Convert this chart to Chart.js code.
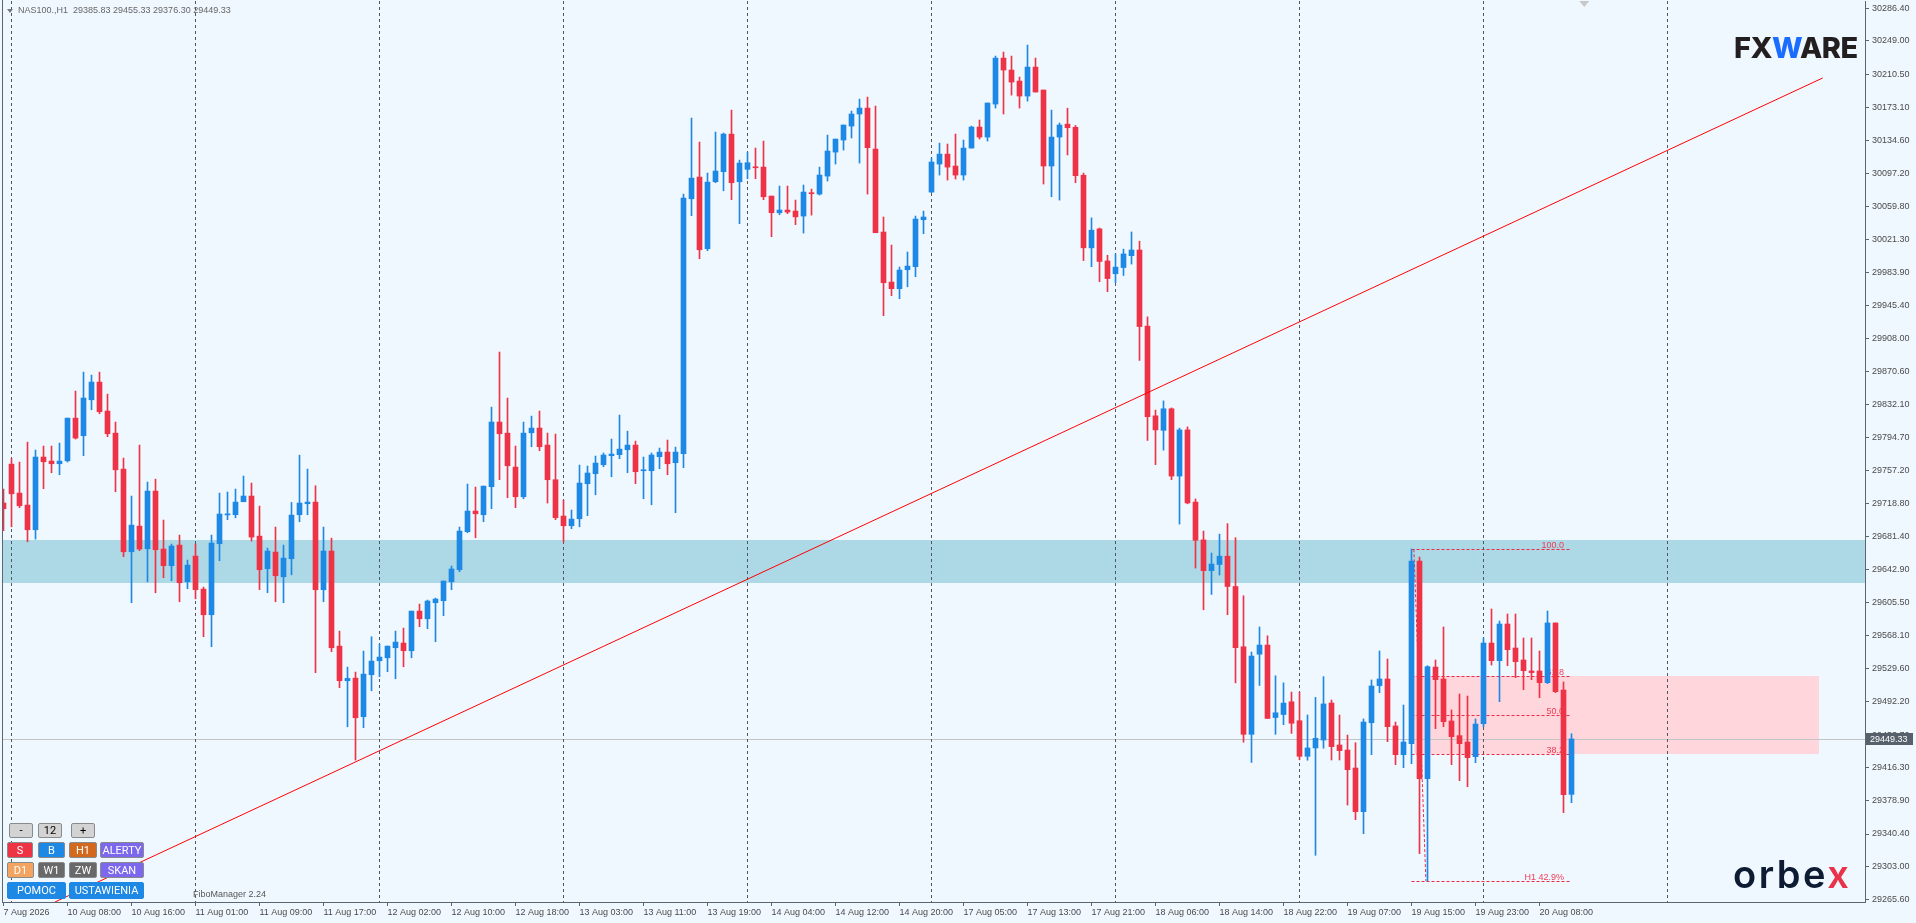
<!DOCTYPE html>
<html>
<head>
<meta charset="utf-8">
<title>NAS100 H1</title>
<script src="https://cdn.jsdelivr.net/npm/chart.js@4.4.1/dist/chart.umd.min.js"></script>
<style>
  html, body { margin: 0; padding: 0; background: #f0f8ff; overflow: hidden; }
  #wrap { position: relative; width: 1916px; height: 923px; }
  #c { position: absolute; left: 0; top: 0; }
  .hdr { position: absolute; left: 18px; top: 5px; font: 9px "Liberation Sans", Arial, sans-serif; color: #666; white-space: pre; }
  .tri { position: absolute; left: 7px; top: 9px; width: 0; height: 0; border-left: 3px solid transparent; border-right: 3px solid transparent; border-top: 4px solid #777; }
  .fxw { position: absolute; left: 1734px; top: 30px; font: 800 29px Inter, "Open Sans", sans-serif; color: #231f20; letter-spacing: -0.5px; }
  .fxw span { color: #1a6dff; }
  .orbex { position: absolute; left: 1733px; top: 851px; font: 600 38px Inter, "Open Sans", sans-serif; color: #0d1b33; letter-spacing: 2.5px; }
  .orbex span { color: #e8334a; }
  .btn { position: absolute; box-sizing: border-box; display: flex; align-items: center; justify-content: center;
         font: 11px Roboto, "Liberation Sans", sans-serif; color: #fff; border: 1px solid #8a8a8a; border-radius: 2px; }
  .fm { position: absolute; left: 193px; top: 889px; font: 9px "Liberation Sans", Arial, sans-serif; color: #555; }
</style>
</head>
<body>
<div id="wrap">
  <canvas id="c"></canvas>
  <div class="tri"></div>
  <div class="hdr">NAS100.,H1  29385.83 29455.33 29376.30 29449.33</div>
  <div class="fxw">FX<span>W</span>ARE</div>
  <div class="orbex">orbe<span>x</span></div>
  <div class="fm">FiboManager 2.24</div>

  <div class="btn" style="left:9px;top:823px;width:24px;height:15px;background:#d3d3d3;color:#000">-</div>
  <div class="btn" style="left:38px;top:823px;width:24px;height:15px;background:#d3d3d3;color:#000">12</div>
  <div class="btn" style="left:71px;top:823px;width:24px;height:15px;background:#d3d3d3;color:#000">+</div>

  <div class="btn" style="left:7px;top:842px;width:26px;height:16px;background:#ee3344">S</div>
  <div class="btn" style="left:38px;top:842px;width:27px;height:16px;background:#1e88e5">B</div>
  <div class="btn" style="left:69px;top:842px;width:28px;height:16px;background:#d2691e">H1</div>
  <div class="btn" style="left:100px;top:842px;width:44px;height:16px;background:#7b68ee">ALERTY</div>

  <div class="btn" style="left:7px;top:862px;width:27px;height:16px;background:#f4a460">D1</div>
  <div class="btn" style="left:38px;top:862px;width:27px;height:16px;background:#696969">W1</div>
  <div class="btn" style="left:69px;top:862px;width:28px;height:16px;background:#696969">ZW</div>
  <div class="btn" style="left:100px;top:862px;width:44px;height:16px;background:#7b68ee">SKAN</div>

  <div class="btn" style="left:7px;top:882px;width:59px;height:17px;background:#1e88e5;border-color:#1e88e5">POMOC</div>
  <div class="btn" style="left:69px;top:882px;width:75px;height:17px;background:#1e88e5;border-color:#1e88e5">USTAWIENIA</div>
</div>

<script>
// NAS100 H1 bars, oldest first (bar index = position on the time axis)
const opens = [
  29719.6, 29764.2, 29731.0, 29717.3, 29689.0, 29772.3, 29767.7, 29764.6, 29768.0, 29816.9,
  29796.7, 29837.9, 29858.2, 29825.0, 29799.7, 29758.5, 29663.8, 29693.2, 29667.2, 29733.3,
  29666.9, 29647.8, 29671.4, 29629.4, 29658.8, 29621.0, 29591.6, 29673.0, 29706.0, 29706.2,
  29721.1, 29727.6, 29681.7, 29644.3, 29663.4, 29635.1, 29655.8, 29706.2, 29718.8, 29720.7,
  29620.3, 29664.6, 29555.7, 29516.0, 29519.0, 29474.8, 29522.9, 29538.9, 29542.3, 29553.8,
  29559.2, 29550.4, 29595.8, 29587.0, 29605.4, 29607.7, 29629.4, 29643.2, 29686.7, 29710.4,
  29706.2, 29738.3, 29812.4, 29799.7, 29760.8, 29726.8, 29800.1, 29805.5, 29786.0, 29746.3,
  29704.7, 29693.6, 29701.6, 29741.7, 29753.2, 29763.5, 29773.8, 29775.0, 29780.7, 29786.0,
  29756.6, 29756.6, 29772.7, 29778.0, 29765.8, 29776.1, 30068.2, 30093.1, 30011.0, 30087.7,
  30099.2, 30142.3, 30087.7, 30101.9, 30104.5, 30104.5, 30071.3, 30052.2, 30055.3, 30054.1,
  30048.4, 30074.7, 30073.6, 30094.2, 30121.7, 30135.5, 30151.5, 30165.3, 30172.1, 30125.2,
  30030.1, 29972.8, 29965.2, 29986.9, 29990.4, 30044.2, 30075.9, 30108.0, 30119.4, 30105.7,
  30095.4, 30126.3, 30150.4, 30138.9, 30176.7, 30229.4, 30215.7, 30203.1, 30185.9, 30219.1,
  30192.8, 30105.7, 30138.9, 30153.7, 30150.1, 30095.2, 30012.0, 30033.7, 29997.0, 29982.3,
  29989.4, 30003.0, 30009.5, 29922.3, 29819.5, 29802.9, 29827.6, 29750.5, 29803.4, 29720.7,
  29677.4, 29642.1, 29649.2, 29658.7, 29624.0, 29554.9, 29454.6, 29546.4, 29556.9, 29473.8,
  29477.3, 29491.9, 29470.2, 29429.4, 29439.0, 29448.1, 29490.5, 29442.4, 29436.6, 29416.0,
  29366.0, 29467.9, 29510.4, 29518.0, 29464.2, 29431.3, 29443.9, 29653.2, 29403.8, 29531.7,
  29518.0, 29469.9, 29453.1, 29445.8, 29429.0, 29466.8, 29559.2, 29539.0, 29581.0, 29553.5,
  29539.8, 29527.2, 29527.2, 29513.8, 29582.2, 29505.4, 29385.83
];
const highs = [
  29735.6, 29770.7, 29766.5, 29789.4, 29780.3, 29784.9, 29784.9, 29788.3, 29816.9, 29847.9,
  29869.6, 29866.2, 29869.6, 29844.4, 29812.4, 29771.1, 29727.6, 29786.0, 29743.6, 29747.0,
  29700.1, 29672.6, 29682.9, 29654.3, 29672.6, 29623.3, 29682.9, 29731.0, 29732.2, 29735.6,
  29750.5, 29742.5, 29716.1, 29668.0, 29692.1, 29671.4, 29720.3, 29774.5, 29758.5, 29739.4,
  29692.1, 29679.4, 29572.9, 29531.6, 29525.9, 29550.0, 29566.4, 29558.0, 29555.7, 29572.9,
  29576.3, 29595.8, 29603.8, 29608.4, 29610.7, 29630.2, 29647.4, 29692.1, 29741.3, 29737.9,
  29739.0, 29829.5, 29892.6, 29839.9, 29784.9, 29812.4, 29819.2, 29825.0, 29799.8, 29798.6,
  29723.0, 29711.6, 29763.1, 29762.0, 29773.4, 29776.9, 29792.9, 29820.4, 29802.0, 29790.6,
  29772.3, 29776.9, 29782.6, 29791.8, 29783.7, 30073.6, 30160.7, 30133.2, 30097.7, 30144.6,
  30143.5, 30169.8, 30112.5, 30121.7, 30126.3, 30134.3, 30071.3, 30082.8, 30082.8, 30066.7,
  30083.9, 30079.3, 30104.5, 30141.2, 30136.6, 30152.7, 30168.7, 30182.4, 30184.7, 30174.4,
  30047.3, 30015.2, 29990.0, 30007.2, 30048.4, 30054.1, 30114.9, 30132.0, 30130.9, 30142.4,
  30135.5, 30151.5, 30158.4, 30177.9, 30231.7, 30236.3, 30231.7, 30207.7, 30244.3, 30229.4,
  30192.8, 30169.8, 30155.0, 30172.0, 30152.2, 30097.7, 30046.3, 30034.7, 30003.5, 30005.0,
  30010.5, 30030.2, 30019.6, 29932.9, 29826.1, 29836.6, 29828.6, 29805.4, 29806.9, 29724.3,
  29687.5, 29662.3, 29684.0, 29696.0, 29679.9, 29613.4, 29548.9, 29577.6, 29567.5, 29521.7,
  29513.6, 29503.0, 29503.0, 29476.8, 29496.9, 29520.7, 29493.9, 29476.7, 29453.8, 29445.0,
  29472.2, 29516.9, 29550.1, 29540.9, 29468.7, 29488.2, 29666.9, 29657.8, 29533.3, 29539.8,
  29577.6, 29482.5, 29500.8, 29498.5, 29472.2, 29565.0, 29598.2, 29584.4, 29592.5, 29592.5,
  29565.0, 29565.0, 29550.1, 29595.9, 29582.2, 29514.6, 29455.33
];
const lows = [
  29687.9, 29692.4, 29714.2, 29675.2, 29678.3, 29736.0, 29754.3, 29752.0, 29766.5, 29792.9,
  29773.8, 29826.5, 29821.9, 29795.6, 29732.5, 29658.1, 29605.4, 29665.0, 29629.4, 29616.8,
  29634.0, 29630.6, 29606.5, 29621.4, 29609.9, 29566.4, 29555.0, 29653.5, 29700.5, 29702.7,
  29721.1, 29676.0, 29620.3, 29616.8, 29606.5, 29605.4, 29637.4, 29698.2, 29706.2, 29525.2,
  29606.5, 29549.2, 29508.0, 29463.3, 29425.1, 29462.2, 29504.5, 29520.6, 29526.3, 29518.3,
  29532.0, 29542.3, 29577.9, 29575.6, 29560.7, 29590.5, 29620.3, 29640.9, 29685.6, 29679.8,
  29698.2, 29713.1, 29746.3, 29725.7, 29714.2, 29724.5, 29784.1, 29779.5, 29719.6, 29700.5,
  29675.0, 29690.2, 29692.4, 29705.1, 29729.1, 29761.2, 29749.7, 29770.4, 29754.3, 29741.7,
  29724.5, 29717.6, 29758.9, 29752.0, 29708.5, 29760.1, 30048.8, 29999.5, 30008.7, 30086.6,
  30077.4, 30067.1, 30039.6, 30091.2, 30091.2, 30067.1, 30024.7, 30049.9, 30051.1, 30038.5,
  30028.9, 30049.5, 30072.5, 30088.5, 30108.0, 30124.0, 30137.8, 30109.1, 30073.6, 30029.3,
  29934.2, 29957.1, 29953.7, 29967.4, 29978.9, 30028.2, 30075.1, 30095.4, 30089.6, 30090.8,
  30089.6, 30126.3, 30136.6, 30134.3, 30172.1, 30165.3, 30187.0, 30172.1, 30180.1, 30190.5,
  30085.1, 30070.5, 30066.7, 30118.4, 30086.6, 29997.4, 29990.4, 29973.2, 29961.7, 29972.2,
  29980.3, 29993.4, 29883.0, 29791.3, 29763.6, 29780.2, 29746.4, 29695.5, 29718.7, 29645.1,
  29597.3, 29614.9, 29637.1, 29591.7, 29513.6, 29445.6, 29422.4, 29510.6, 29472.8, 29454.6,
  29465.7, 29455.6, 29425.4, 29424.9, 29316.0, 29438.6, 29425.2, 29425.2, 29373.6, 29356.8,
  29340.8, 29431.3, 29502.3, 29446.2, 29419.8, 29416.4, 29421.0, 29317.9, 29286.6, 29461.1,
  29463.4, 29419.8, 29401.5, 29394.6, 29422.1, 29463.4, 29534.0, 29492.0, 29533.3, 29519.5,
  29505.8, 29517.2, 29496.6, 29512.7, 29502.3, 29364.9, 29376.30
];
const closes = [
  29713.1, 29730.2, 29716.5, 29689.0, 29772.3, 29766.9, 29764.6, 29767.7, 29816.9, 29794.0,
  29839.9, 29858.2, 29824.2, 29799.0, 29757.7, 29663.8, 29694.3, 29666.9, 29733.3, 29666.1,
  29647.8, 29670.3, 29628.3, 29648.5, 29620.3, 29591.6, 29673.7, 29707.0, 29707.2, 29720.7,
  29727.6, 29680.6, 29643.2, 29664.6, 29636.3, 29656.5, 29705.8, 29719.6, 29720.7, 29620.3,
  29664.6, 29553.8, 29516.0, 29518.7, 29473.6, 29523.6, 29538.5, 29543.1, 29555.7, 29560.3,
  29550.4, 29595.8, 29587.0, 29607.3, 29609.6, 29630.2, 29644.0, 29687.5, 29710.4, 29707.3,
  29739.0, 29812.4, 29799.0, 29762.3, 29726.8, 29799.7, 29805.5, 29784.1, 29746.3, 29702.8,
  29693.6, 29701.2, 29742.5, 29754.0, 29765.4, 29774.6, 29775.7, 29781.4, 29786.0, 29755.5,
  29757.4, 29774.6, 29778.0, 29764.6, 29778.0, 30069.0, 30091.9, 30009.8, 30087.3, 30100.0,
  30142.3, 30086.6, 30109.1, 30109.5, 30103.7, 30070.5, 30052.2, 30055.3, 30053.0, 30047.5,
  30075.9, 30074.0, 30095.4, 30122.9, 30136.6, 30152.7, 30165.3, 30172.1, 30126.7, 30029.3,
  29972.0, 29965.2, 29986.5, 29991.1, 30045.0, 30047.3, 30110.3, 30119.4, 30104.5, 30095.4,
  30126.3, 30150.4, 30138.9, 30177.9, 30229.4, 30215.7, 30201.9, 30185.9, 30219.1, 30190.5,
  30105.7, 30138.9, 30152.7, 30149.6, 30094.7, 30012.0, 30032.2, 29996.4, 29976.8, 29989.9,
  30005.0, 30009.5, 29921.8, 29818.5, 29803.4, 29827.6, 29750.5, 29803.4, 29719.7, 29676.9,
  29642.1, 29649.7, 29658.7, 29624.0, 29553.9, 29454.6, 29544.3, 29556.9, 29472.8, 29479.3,
  29490.4, 29467.3, 29429.4, 29439.0, 29450.1, 29489.4, 29440.5, 29435.9, 29414.1, 29366.0,
  29468.7, 29510.0, 29518.0, 29463.4, 29431.3, 29445.8, 29653.2, 29403.8, 29532.1, 29517.2,
  29469.1, 29451.9, 29443.9, 29427.9, 29466.4, 29559.2, 29539.0, 29581.0, 29551.6, 29537.9,
  29527.5, 29525.3, 29513.8, 29582.2, 29503.5, 29385.5, 29449.33
];

// time axis labels, one every 8 bars starting at bar 0
const timeLabels = [
  '7 Aug 2026', '10 Aug 08:00', '10 Aug 16:00', '11 Aug 01:00', '11 Aug 09:00', '11 Aug 17:00',
  '12 Aug 02:00', '12 Aug 10:00', '12 Aug 18:00', '13 Aug 03:00', '13 Aug 11:00', '13 Aug 19:00',
  '14 Aug 04:00', '14 Aug 12:00', '14 Aug 20:00', '17 Aug 05:00', '17 Aug 13:00', '17 Aug 21:00',
  '18 Aug 06:00', '18 Aug 14:00', '18 Aug 22:00', '19 Aug 07:00', '19 Aug 15:00', '19 Aug 23:00',
  '20 Aug 08:00'
];
const priceTicks = [
  30286.40, 30249.00, 30210.50, 30173.10, 30134.60, 30097.20, 30059.80, 30021.30, 29983.90, 29945.40,
  29908.00, 29870.60, 29832.10, 29794.70, 29757.20, 29718.80, 29681.40, 29642.90, 29605.50, 29568.10,
  29529.60, 29492.20, 29453.70, 29416.30, 29378.90, 29340.40, 29303.00, 29265.60
];
const gridBars = [1, 24, 47, 70, 93, 116, 139, 162, 185, 208];

// drawn objects
const supportZone = [29628.3, 29677.2];
const fibStart = 176, fibEnd = 195.8;
const fibLow = 29286.6, fibHigh = 29666.6;
const fibLevels = [0, 38.2, 50.0, 61.8, 100.0];
const fibTexts = ['H1 42.9%', '38.2', '50.0', '61.8', '100.0'];
const fibBoxEnd = 226.9;
const trendX = [6.44, 227.4];
const trendY = [29262.5, 30206.6];
const lastPrice = 29449.33;

const bull = '#1e88e5', bear = '#ef3346';
const barColors = closes.map((c, i) => c >= opens[i] ? bull : bear);
const xMin = -0.1875, xMax = 232.6875;
const axisFont = { family: 'Liberation Sans', size: 9 };

const fibPrice = lv => fibLow + (fibHigh - fibLow) * lv / 100;

const drawings = {
  id: 'drawings',
  beforeDraw(chart) {
    const { ctx, chartArea: a, scales: { x, y } } = chart;
    ctx.save();
    ctx.beginPath();
    ctx.rect(a.left, a.top, a.right - a.left, a.bottom - a.top);
    ctx.clip();

    // support zone
    let t = y.getPixelForValue(supportZone[1]), b = y.getPixelForValue(supportZone[0]);
    ctx.fillStyle = '#add8e6';
    ctx.fillRect(a.left, Math.round(t), a.right - a.left, Math.round(b) - Math.round(t));

    // fibo box 38.2 - 61.8
    t = y.getPixelForValue(fibPrice(61.8)); b = y.getPixelForValue(fibPrice(38.2));
    const bx0 = x.getPixelForValue(fibStart + 0.3), bx1 = x.getPixelForValue(fibBoxEnd);
    ctx.fillStyle = '#ffd6dc';
    ctx.fillRect(Math.round(bx0), Math.round(t), Math.round(bx1 - bx0), Math.round(b - t));

    // last price line
    const py = Math.round(y.getPixelForValue(lastPrice)) + 0.5;
    ctx.strokeStyle = '#c4c4c4';
    ctx.lineWidth = 1;
    ctx.beginPath(); ctx.moveTo(a.left, py); ctx.lineTo(a.right, py); ctx.stroke();

    // fibo levels
    const fx0 = x.getPixelForValue(fibStart), fx1 = x.getPixelForValue(fibEnd);
    ctx.strokeStyle = '#ee2a44';
    ctx.setLineDash([3, 2]);
    fibLevels.forEach((lv, k) => {
      const ly = Math.round(y.getPixelForValue(fibPrice(lv))) + 0.5;
      ctx.beginPath(); ctx.moveTo(fx0, ly); ctx.lineTo(fx1, ly); ctx.stroke();
      ctx.fillStyle = '#ee3d55';
      ctx.font = '9px "Liberation Sans", Arial, sans-serif';
      ctx.textAlign = 'right';
      ctx.textBaseline = 'alphabetic';
      ctx.fillText(fibTexts[k], fx1 - 6, ly - 2);
    });
    ctx.beginPath();
    ctx.moveTo(x.getPixelForValue(fibStart + 0.3), y.getPixelForValue(fibHigh));
    ctx.lineTo(x.getPixelForValue(fibStart + 1.8), y.getPixelForValue(fibLow));
    ctx.stroke();
    ctx.restore();
  },
  afterDraw(chart) {
    const { ctx, chartArea: a, scales: { x, y } } = chart;
    ctx.save();
    // left frame
    ctx.strokeStyle = '#5b6770';
    ctx.beginPath(); ctx.moveTo(a.left + 0.5, 0); ctx.lineTo(a.left + 0.5, a.bottom); ctx.stroke();
    // shift marker
    const mx = x.getPixelForValue(197.6);
    ctx.fillStyle = '#c8c8c8';
    ctx.beginPath(); ctx.moveTo(mx - 5, 1); ctx.lineTo(mx + 5, 1); ctx.lineTo(mx, 7); ctx.closePath(); ctx.fill();
    // last price tag
    const py = Math.round(y.getPixelForValue(lastPrice));
    ctx.fillStyle = '#56616b';
    ctx.fillRect(a.right + 1, py - 6, 47, 12);
    ctx.fillStyle = '#ffffff';
    ctx.font = '9px "Liberation Sans", Arial, sans-serif';
    ctx.textAlign = 'left';
    ctx.textBaseline = 'middle';
    ctx.fillText(lastPrice.toFixed(2), a.right + 5, py + 0.5);
    ctx.restore();
  }
};

// keep the plot box fixed: no label overhang padding
const noPad = s => { s.paddingTop = 0; s.paddingBottom = 0; s.paddingLeft = 0; s.paddingRight = 0; };

new Chart(document.getElementById('c'), {
  type: 'bar',
  data: {
    datasets: [
      {
        type: 'line',
        label: 'trend',
        data: [{ x: trendX[0], y: trendY[0] }, { x: trendX[1], y: trendY[1] }],
        borderColor: '#ff0000',
        borderWidth: 1,
        pointRadius: 0,
        fill: false,
        order: 0
      },
      {
        label: 'body',
        data: opens.map((o, i) => ({ x: i, y: [o, closes[i]] })),
        backgroundColor: barColors,
        barThickness: 5,
        minBarLength: 1,
        grouped: false,
        borderWidth: 0,
        order: 1
      },
      {
        label: 'wick',
        data: lows.map((l, i) => ({ x: i, y: [l, highs[i]] })),
        backgroundColor: barColors,
        barThickness: 1,
        minBarLength: 1,
        grouped: false,
        borderWidth: 0,
        order: 2
      }
    ]
  },
  options: {
    responsive: true,
    maintainAspectRatio: false,
    animation: false,
    events: [],
    layout: { padding: { left: 2, top: 1, right: 0, bottom: 0 } },
    plugins: { legend: { display: false }, tooltip: { enabled: false } },
    scales: {
      x: {
        type: 'linear', min: xMin, max: xMax, offset: false,
        afterFit: s => { s.height = 21; noPad(s); },
        afterBuildTicks: s => { s.ticks = timeLabels.map((t, k) => ({ value: k * 8 })); },
        ticks: {
          autoSkip: false, maxRotation: 0, minRotation: 0, align: 'start', padding: 1,
          color: '#4a4a4a', font: axisFont,
          callback: v => timeLabels[Math.round(v / 8)]
        },
        grid: { offset: false, drawOnChartArea: false, drawTicks: true, tickLength: 4, color: '#5b6770' },
        border: { display: true, color: '#5b6770' }
      },
      xg: {
        type: 'linear', position: 'bottom', min: xMin, max: xMax, offset: false,
        afterFit: s => { s.height = 0; noPad(s); },
        afterBuildTicks: s => { s.ticks = gridBars.map(v => ({ value: v })); },
        ticks: { display: false },
        grid: { offset: false, drawTicks: false, color: '#4f5860', lineWidth: 1 },
        border: { display: false, dash: [3, 3] }
      },
      y: {
        position: 'right', min: 29262.5, max: 30294.8,
        afterFit: s => { s.width = 51; noPad(s); },
        afterBuildTicks: s => { s.ticks = priceTicks.map(v => ({ value: v })); },
        ticks: {
          autoSkip: false, padding: 3, color: '#4a4a4a', font: axisFont,
          callback: v => v.toFixed(2)
        },
        grid: { drawOnChartArea: false, drawTicks: true, tickLength: 4, color: '#5b6770' },
        border: { display: true, color: '#5b6770' }
      }
    }
  },
  plugins: [drawings]
});
</script>
</body>
</html>
